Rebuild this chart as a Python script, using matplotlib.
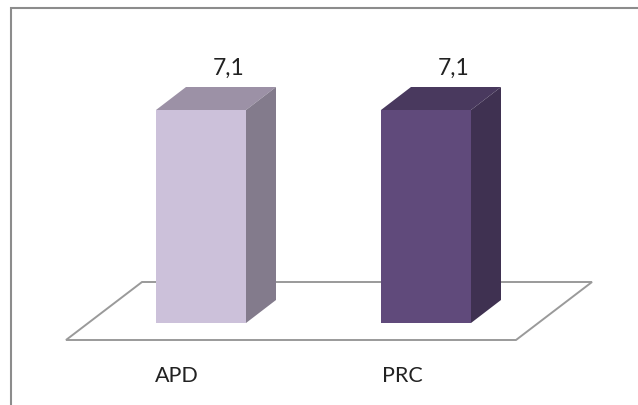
import matplotlib
matplotlib.use("Agg")
import matplotlib.pyplot as plt
from matplotlib.patches import Polygon

categories = ["APD", "PRC"]
values = [7.1, 7.1]
value_labels = ["7,1", "7,1"]
front_colours = ["#ccc1da", "#604a7b"]
top_colours = ["#9c91a6", "#49395e"]
side_colours = ["#837b8c", "#3f3151"]

W, H = 638, 405
plt.rcParams["font.family"] = ["Lato", "DejaVu Sans"]

fig = plt.figure(figsize=(W / 100, H / 100), dpi=100)
ax = fig.add_axes([0, 0, 1, 1])

# axis limits chosen so y=0 sits at the bar foot and 7.1 at the bar top
px_per_unit_y = (323 - 110) / 7.1
px_per_unit_x = 225.0
ax.set_xlim(-201 / px_per_unit_x, (W - 201) / px_per_unit_x)
ax.set_ylim(-(H - 323) / px_per_unit_y, 323 / px_per_unit_y)
ax.axis("off")

bar_width = 90 / px_per_unit_x
dx = 30 / px_per_unit_x
dy = 23 / px_per_unit_y


def px(x, y):
    return ((x - 201) / px_per_unit_x, (323 - y) / px_per_unit_y)


# outer border, only left and top are in the crop
ax.add_patch(Polygon([px(11, 405), px(11, 8), px(638, 8)], closed=False,
                     fill=False, edgecolor="#8c8c8c", linewidth=1.5, zorder=1))

# floor
ax.add_patch(Polygon([px(66, 340), px(516, 340), px(592, 282), px(142, 282)], closed=True,
                     facecolor="white", edgecolor="#9a9a9a", linewidth=1.4, zorder=2))

xs = list(range(len(categories)))
ax.bar(xs, values, width=bar_width, color=front_colours, zorder=4)

for x, v, lab, top, side, name in zip(xs, values, value_labels, top_colours, side_colours, categories):
    l = x - bar_width / 2
    r = x + bar_width / 2
    ax.add_patch(Polygon([(l, v), (r, v), (r + dx, v + dy), (l + dx, v + dy)], facecolor=top, edgecolor="none", zorder=3))
    ax.add_patch(Polygon([(r, 0), (r + dx, dy), (r + dx, v + dy), (r, v)], facecolor=side, edgecolor="none", zorder=3))
    ax.text(x + 27.5 / px_per_unit_x, v + dy + 12 / px_per_unit_y, lab, ha="center", va="baseline",
            fontsize=16.5, color="#222222")
    ax.text(x - 24 / px_per_unit_x, -59.5 / px_per_unit_y, name, ha="center", va="baseline",
            fontsize=15.5, color="#222222")

fig.savefig("out.png", dpi=100)
